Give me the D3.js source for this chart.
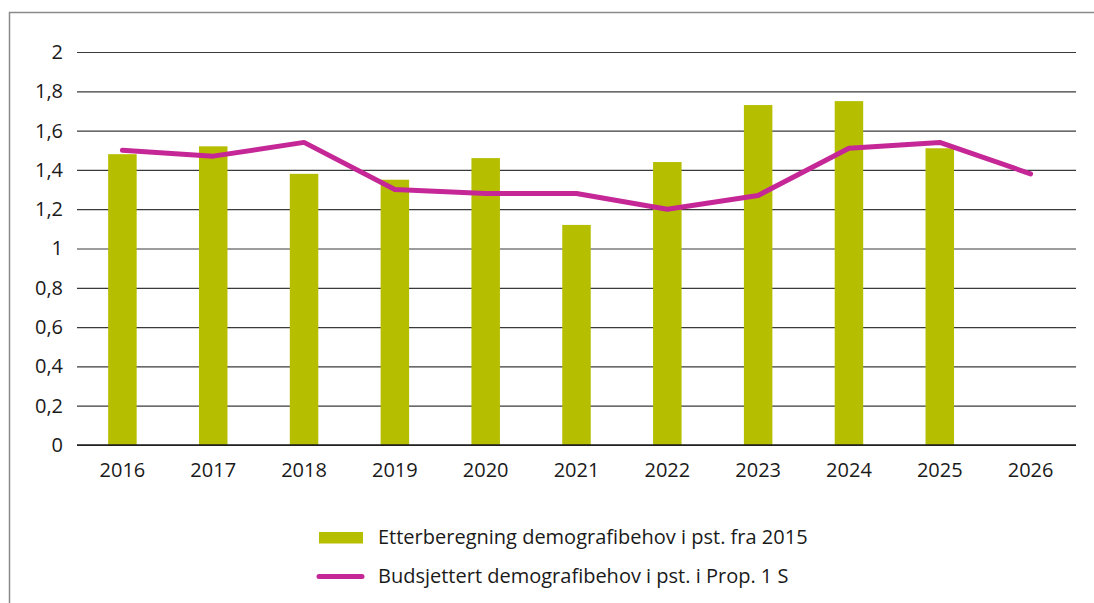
<!DOCTYPE html>
<html>

<head>
    <script src="https://d3js.org/d3.v7.min.js"></script>
    <style>
        body {
            margin: 0;
            background: white;
        }

        text {
            font-family: "Open Sans", sans-serif;
            fill: #1a1a1a;
        }
    </style>
</head>

<body>
    <div id="chart"></div>

    <script>
        // values
        const years = ["2016", "2017", "2018", "2019", "2020", "2021", "2022", "2023", "2024", "2025", "2026"];
        const etterberegning = [1.48, 1.52, 1.38, 1.35, 1.46, 1.12, 1.44, 1.73, 1.75, 1.51, null];
        const budsjettert = [1.50, 1.47, 1.54, 1.30, 1.28, 1.28, 1.20, 1.27, 1.51, 1.54, 1.38];
        const yTicks = [0, 0.2, 0.4, 0.6, 0.8, 1, 1.2, 1.4, 1.6, 1.8, 2];
        const seriesNames = ["Etterberegning demografibehov i pst. fra 2015", "Budsjettert demografibehov i pst. i Prop. 1 S"];

        const green = "#b6be00", magenta = "#c52896";

        const width = 1094, height = 603;
        const margin = { top: 52, right: 18, bottom: 158, left: 77 };

        const svg = d3.select("#chart").append("svg")
            .attr("width", width)
            .attr("height", height);

        // frame around the figure (runs off the right and bottom edges)
        svg.append("rect")
            .attr("x", 9.5).attr("y", 12.5)
            .attr("width", width).attr("height", height)
            .attr("fill", "none")
            .attr("stroke", "#8a8a8a")
            .attr("stroke-width", 1.5);

        const x = d3.scaleBand()
            .domain(years)
            .range([margin.left, width - margin.right]);

        const y = d3.scaleLinear()
            .domain([0, 2])
            .range([height - margin.bottom, margin.top]);

        // gridlines + y labels
        const yAxis = svg.append("g")
            .attr("transform", "translate(" + margin.left + ",0)")
            .call(d3.axisLeft(y)
                .tickValues(yTicks)
                .tickSize(-(width - margin.left - margin.right))
                .tickPadding(14)
                .tickFormat(d => String(d).replace(".", ",")));
        yAxis.select(".domain").remove();
        yAxis.selectAll("line").attr("stroke", "#3a3a3a").attr("stroke-width", 1.2);
        yAxis.selectAll("text").style("font-size", "20px").attr("fill", "#1a1a1a");

        // bars
        const barW = 28.5;
        svg.selectAll(".bar")
            .data(years.map((yr, i) => ({ yr, v: etterberegning[i] })).filter(d => d.v !== null))
            .enter().append("rect")
            .attr("class", "bar")
            .attr("x", d => x(d.yr) + x.bandwidth() / 2 - barW / 2)
            .attr("y", d => y(d.v))
            .attr("width", barW)
            .attr("height", d => y(0) - y(d.v))
            .attr("fill", green);

        // baseline
        svg.append("line")
            .attr("x1", margin.left).attr("x2", width - margin.right)
            .attr("y1", y(0)).attr("y2", y(0))
            .attr("stroke", "#1a1a1a").attr("stroke-width", 1.3);

        // line series
        const line = d3.line()
            .x((d, i) => x(years[i]) + x.bandwidth() / 2)
            .y(d => y(d));
        svg.append("path")
            .datum(budsjettert)
            .attr("d", line)
            .attr("fill", "none")
            .attr("stroke", magenta)
            .attr("stroke-width", 5)
            .attr("stroke-linejoin", "round")
            .attr("stroke-linecap", "round");

        // x labels
        const xAxis = svg.append("g")
            .attr("transform", "translate(0," + y(0) + ")")
            .call(d3.axisBottom(x).tickSize(0).tickPadding(18));
        xAxis.select(".domain").remove();
        xAxis.selectAll("text").style("font-size", "20px").attr("fill", "#1a1a1a");

        // legend
        const legend = svg.append("g");
        legend.append("rect")
            .attr("x", 319).attr("y", 532)
            .attr("width", 44).attr("height", 11.5)
            .attr("fill", green);
        legend.append("line")
            .attr("x1", 319).attr("x2", 362)
            .attr("y1", 576.5).attr("y2", 576.5)
            .attr("stroke", magenta).attr("stroke-width", 5)
            .attr("stroke-linecap", "round");
        legend.selectAll(".ltext")
            .data(seriesNames)
            .enter().append("text")
            .attr("x", 378)
            .attr("y", (d, i) => 537 + i * 39)
            .attr("dy", "0.35em")
            .style("font-size", "20px")
            .text(d => d);
    </script>
</body>

</html>
